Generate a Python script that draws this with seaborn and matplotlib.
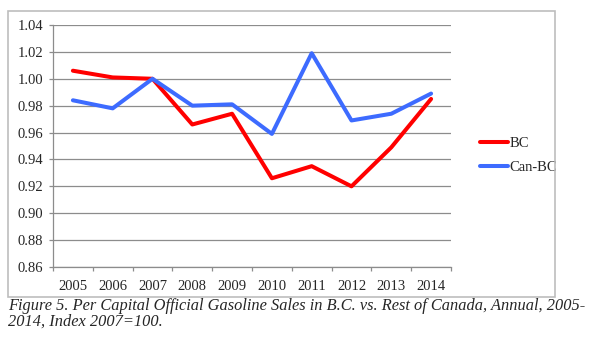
import numpy as np
import pandas as pd
import seaborn as sns
import matplotlib.pyplot as plt
import matplotlib.ticker as mticker
from matplotlib.patches import Rectangle

sns.set_theme(style="white")
plt.rcParams["font.family"] = ["Liberation Serif", "DejaVu Serif"]

years = ["2005", "2006", "2007", "2008", "2009", "2010", "2011", "2012", "2013", "2014"]
bc = [1.006, 1.001, 1.000, 0.966, 0.974, 0.926, 0.935, 0.920, 0.949, 0.985]
can_bc = [0.984, 0.978, 1.000, 0.980, 0.981, 0.959, 1.019, 0.969, 0.974, 0.989]
y_ticks = [0.86, 0.88, 0.90, 0.92, 0.94, 0.96, 0.98, 1.00, 1.02, 1.04]

df = pd.DataFrame({"year": years * 2,
                   "value": bc + can_bc,
                   "series": ["BC"] * len(years) + ["Can-BC"] * len(years)})

fig = plt.figure(figsize=(5.91, 3.6), dpi=100)
ax = fig.add_axes([53 / 591, 1 - 267 / 360, (451 - 53) / 591, (267 - 25) / 360])

sns.lineplot(data=df, x="year", y="value", hue="series", sort=False,
             palette={"BC": "#FF0000", "Can-BC": "#3D6BFF"},
             linewidth=2.9, ax=ax)

ax.set_xlim(-0.5, len(years) - 0.5)
ax.set_ylim(y_ticks[0], y_ticks[-1])
ax.set_yticks(y_ticks)
ax.yaxis.set_major_formatter(mticker.StrMethodFormatter("{x:.2f}"))
ax.set_xticks(range(len(years)))
ax.set_xticklabels(years)
ax.set_xticks(np.arange(-0.5, len(years), 1.0), minor=True)
ax.set_xlabel("")
ax.set_ylabel("")

ax.grid(axis="y", color="#8C8C8C", linewidth=0.9)
ax.set_axisbelow(True)
for s in ["top", "right"]:
    ax.spines[s].set_visible(False)
for s in ["left", "bottom"]:
    ax.spines[s].set_color("#8C8C8C")
    ax.spines[s].set_linewidth(0.9)

ax.tick_params(axis="y", which="major", left=True, length=3, width=0.9,
               color="#8C8C8C", labelsize=10.5, pad=4)
ax.tick_params(axis="x", which="major", bottom=False, labelsize=10.5, pad=3)
ax.tick_params(axis="x", which="minor", bottom=True, length=3, width=0.9,
               color="#8C8C8C")

leg = ax.legend(loc="center left", bbox_to_anchor=(1.04, 0.46), frameon=False,
                fontsize=10.5, handlelength=1.9, handletextpad=0.1,
                labelspacing=0.75)
for line in leg.get_lines():
    line.set_linewidth(2.9)

fig.patches.append(Rectangle((8 / 591, 1 - 297 / 360), (555 - 8) / 591, (297 - 11) / 360,
                             transform=fig.transFigure, fill=False,
                             edgecolor="#BDBDBD", linewidth=1.2))

fig.text(8 / 591, 1 - 306 / 360,
         "Figure 5. Per Capital Official Gasoline Sales in B.C. vs. Rest of Canada, Annual, 2005-",
         fontsize=11.8, style="italic", va="center", ha="left")
fig.text(8 / 591, 1 - 322 / 360, "2014, Index 2007=100.",
         fontsize=11.8, style="italic", va="center", ha="left")

fig.savefig("out.png", dpi=100)
